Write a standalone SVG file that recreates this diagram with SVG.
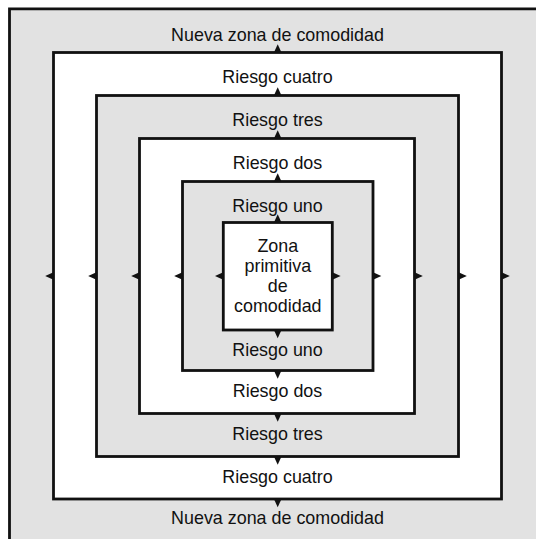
<svg xmlns="http://www.w3.org/2000/svg" width="536" height="539" viewBox="0 0 536 539">
<style>
.gray{fill:#e2e2e2}
.white{fill:#ffffff}
.ring{stroke:#111111;stroke-width:2.8}
.edge{stroke:#111111;stroke-width:2.8;fill:none}
.lbl{font-family:"Liberation Sans",Arial,Helvetica,sans-serif;font-size:17.9px;fill:#111111;text-anchor:middle}
.arr{fill:#111111}
</style>
<defs>
<path id="ah" d="M-4,0.5 L4,0.5 L0,-8.3 Z"/>
</defs>
<rect x="0" y="0" width="536" height="539" fill="#ffffff"/>
<g id="nueva-zona">
<rect class="gray" x="9.5" y="8.8" width="530" height="535"/>
<path class="edge" d="M9.5,539 L9.5,8.8 L536,8.8"/>
<text class="lbl" x="277.5" y="40.5">Nueva zona de comodidad</text>
<text class="lbl" x="277.5" y="524">Nueva zona de comodidad</text>
</g>
<g id="riesgo-cuatro">
<rect class="white ring" x="53.5" y="52.5" width="448" height="446.5"/>
<text class="lbl" x="277.5" y="83">Riesgo cuatro</text>
<text class="lbl" x="277.5" y="482.7">Riesgo cuatro</text>
</g>
<g id="riesgo-tres">
<rect class="gray ring" x="96.5" y="95.5" width="362" height="361"/>
<text class="lbl" x="277.5" y="126">Riesgo tres</text>
<text class="lbl" x="277.5" y="439.5">Riesgo tres</text>
</g>
<g id="riesgo-dos">
<rect class="white ring" x="139.5" y="138.5" width="275" height="275"/>
<text class="lbl" x="277.5" y="169">Riesgo dos</text>
<text class="lbl" x="277.5" y="397">Riesgo dos</text>
</g>
<g id="riesgo-uno">
<rect class="gray ring" x="182.5" y="181.5" width="190.5" height="189"/>
<text class="lbl" x="277.5" y="212">Riesgo uno</text>
<text class="lbl" x="277.5" y="356.3">Riesgo uno</text>
</g>
<g id="zona-primitiva">
<rect class="white ring" x="223.3" y="222.5" width="109" height="107.5"/>
<text class="lbl" x="277.8" y="252.3">Zona</text>
<text class="lbl" x="277.8" y="272.3">primitiva</text>
<text class="lbl" x="277.8" y="292.2">de</text>
<text class="lbl" x="277.8" y="312.3">comodidad</text>
</g>
<g id="connectors" class="arr">
<use href="#ah" transform="translate(277.7,52.5)"/>
<use href="#ah" transform="translate(277.7,95.5)"/>
<use href="#ah" transform="translate(277.7,138.5)"/>
<use href="#ah" transform="translate(277.7,181.5)"/>
<use href="#ah" transform="translate(277.7,222.5)"/>
<use href="#ah" transform="translate(277.7,499) rotate(180)"/>
<use href="#ah" transform="translate(277.7,456.5) rotate(180)"/>
<use href="#ah" transform="translate(277.7,413.5) rotate(180)"/>
<use href="#ah" transform="translate(277.7,370.5) rotate(180)"/>
<use href="#ah" transform="translate(277.7,330) rotate(180)"/>
<use href="#ah" transform="translate(53.5,276) rotate(-90)"/>
<use href="#ah" transform="translate(96.5,276) rotate(-90)"/>
<use href="#ah" transform="translate(139.5,276) rotate(-90)"/>
<use href="#ah" transform="translate(182.5,276) rotate(-90)"/>
<use href="#ah" transform="translate(223.3,276) rotate(-90)"/>
<use href="#ah" transform="translate(501.5,276) rotate(90)"/>
<use href="#ah" transform="translate(458.5,276) rotate(90)"/>
<use href="#ah" transform="translate(414.5,276) rotate(90)"/>
<use href="#ah" transform="translate(373,276) rotate(90)"/>
<use href="#ah" transform="translate(332.3,276) rotate(90)"/>
</g>
</svg>
